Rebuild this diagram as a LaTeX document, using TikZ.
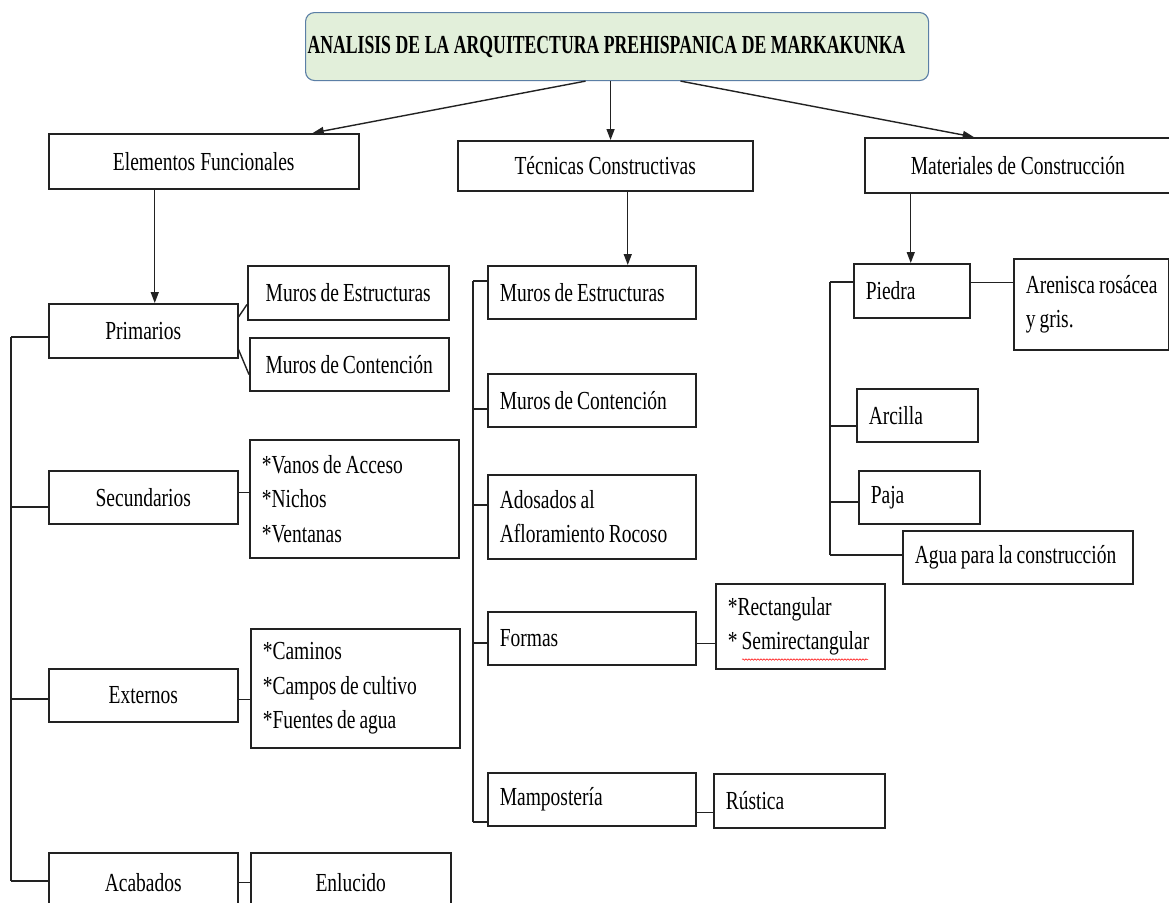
\documentclass[tikz,border=0pt]{standalone}
\usepackage{fontspec}
\setmainfont{Liberation Serif}[FakeStretch=0.75]
\newfontfamily\titlefont{Liberation Serif}[FakeStretch=0.68]
\usetikzlibrary{arrows.meta,decorations.pathmorphing,calc}
\definecolor{titlefill}{HTML}{E2EFDA}
\definecolor{titleline}{HTML}{5B7FA6}
\definecolor{ink}{HTML}{222222}
\DeclareRobustCommand\bxfont{\fontsize{26}{34.5}\selectfont}
\tikzset{
  bx/.style={draw=ink, line width=1.5pt, rectangle, inner xsep=12pt, inner ysep=0pt,
             anchor=north west, font=\bxfont, text=black,
             execute at begin node={\spaceskip=4pt plus 1pt minus 0.5pt\relax}},
  bxl/.style={bx, align=left},
  bxc/.style={bx, align=center},
  wh/.code 2 args={\pgfmathsetmacro\bxtw{#1-24}\edef\bxtmp{\noexpand\pgfkeysalso{minimum width=#1pt,minimum height=#2pt,text width=\bxtw pt}}\bxtmp},
  ln/.style={draw=ink, line width=1.4pt},
  arr/.style={ln, -{Triangle[length=11pt,width=8pt]}},
}
\begin{document}
\begin{tikzpicture}[x=1pt,y=-1pt]
\clip (0,0) rectangle (1169,902);
\fill[white] (0,0) rectangle (1169,902);

% title
\node[draw=titleline, fill=titlefill, rounded corners=9pt, line width=1.1pt,
      minimum width=623pt, minimum height=68pt, anchor=north west,
      inner xsep=2pt, inner ysep=0pt, text width=619pt, align=left] (title) at (305,12)
  {\raisebox{4pt}{\titlefont\bfseries\fontsize{26}{30}\selectfont\spaceskip=4.6pt\relax ANALISIS DE LA ARQUITECTURA PREHISPANICA DE MARKAKUNKA}};

% level 1
\node[bxc, wh={310}{55}] (ef) at (48,133) {Elementos Funcionales};
\node[bxc, wh={295}{50}] (tc) at (457,140) {Técnicas Constructivas};
\node[bxc, wh={306}{55}] (mc) at (864,137) {Materiales de Construcción};

% left column
\node[bxc, wh={189}{54}] (prim) at (48,303) {Primarios};
\node[bxc, wh={201}{54}] (lmE) at (247,265) {\mbox{Muros de Estructuras}};
\node[bxc, wh={199}{53}] (lmC) at (249,337) {\mbox{Muros de Contención}};
\node[bxc, wh={189}{53}] (sec) at (48,470) {Secundarios};
\node[bxl, wh={209}{118}] (van) at (249,439) {*Vanos de Acceso\\{}*Nichos\\{}*Ventanas};
\node[bxc, wh={189}{53}] (ext) at (48,668) {Externos};
\node[bxl, wh={209}{119}] (cam) at (250,628) {*Caminos\\{}*Campos de cultivo\\{}*Fuentes de agua};
\node[bxc, wh={189}{60}] (aca) at (48,852) {Acabados};
\node[bxc, wh={200}{60}] (enl) at (250,852) {Enlucido};

% middle column
\node[bxl, wh={208}{53}] (mE) at (487,265) {Muros de Estructuras};
\node[bxl, wh={208}{53}] (mC) at (487,373) {Muros de Contención};
\node[bxl, wh={208}{84}] (ado) at (487,474) {Adosados al\\\mbox{Afloramiento Rocoso}};
\node[bxl, wh={208}{53}] (for) at (487,611) {Formas};
\node[bxl, wh={169}{85}] (rec) at (715,583) {*Rectangular\\{}\mbox{* Semirectangular}};
\node[bxl, wh={208}{53}] (mam) at (487,772) {Mampostería};
\node[bxl, wh={171}{54}] (rus) at (713,773) {Rústica};

% right column
\node[bxl, wh={116}{54}] (pie) at (853,263) {Piedra};
\node[bxl, wh={155}{91}] (are) at (1013,258) {\mbox{Arenisca rosácea}\\y gris.};
\node[bxl, wh={121}{53}] (arc) at (856,388) {Arcilla};
\node[bxl, wh={121}{53}] (paj) at (858,470) {Paja};
\node[bxl, wh={230}{53}] (agu) at (902,530) {\mbox{Agua para la construcción}};

% spell-check squiggle
\draw[red, line width=0.5pt, decorate, decoration={snake, amplitude=0.7pt, segment length=3pt}]
  ($(rec.south west)+(27,-10)$) -- ($(rec.south west)+(153,-10)$);

% arrows from title
\draw[arr] ([xshift=-31.5pt]title.south) -- ([xshift=109pt]ef.north);
\draw[arr] ([xshift=-6.5pt]title.south) -- ([xshift=-6.5pt]title.south |- tc.north);
\draw[arr] ([xshift=63.5pt]title.south) -- ([xshift=-44pt]mc.north);
\draw[arr] ([xshift=-49pt]ef.south) -- ([xshift=-49pt]ef.south |- prim.north);
\draw[arr] ([xshift=22.5pt]tc.south) -- ([xshift=22.5pt]tc.south |- mE.north);
\draw[arr] ([xshift=-107pt]mc.south) -- ([xshift=-107pt]mc.south |- pie.north);

% left trunk
\coordinate (L1) at (11,337);
\coordinate (L2) at (11,507);
\coordinate (L3) at (11,699);
\coordinate (L4) at (11,881);
\draw[ln] (L1) -- (L4);
\draw[ln] (L1) -- (L1 -| prim.west);
\draw[ln] (L2) -- (L2 -| sec.west);
\draw[ln] (L3) -- (L3 -| ext.west);
\draw[ln] (L4) -- (L4 -| aca.west);
\draw[ln] ([yshift=-14pt]prim.north east) -- ([yshift=16pt]lmE.south west);
\draw[ln] ([yshift=9pt]prim.south east) -- ([yshift=17pt]lmC.south west);
\draw[ln] ([yshift=4.5pt]sec.east) -- ([yshift=4.5pt]sec.east -| van.west);
\draw[ln] ([yshift=-4.5pt]ext.east) -- ([yshift=-4.5pt]ext.east -| cam.west);
\draw[ln] (aca.east) -- (enl.west);

% middle trunk
\coordinate (M1) at (473,281);
\coordinate (M2) at (473,409);
\coordinate (M3) at (473,505);
\coordinate (M4) at (473,643);
\coordinate (M5) at (473,822);
\draw[ln] (M1) -- (M5);
\draw[ln] (M1) -- (M1 -| mE.west);
\draw[ln] (M2) -- (M2 -| mC.west);
\draw[ln] (M3) -- (M3 -| ado.west);
\draw[ln] (M4) -- (M4 -| for.west);
\draw[ln] (M5) -- (M5 -| mam.west);
\draw[ln] ([yshift=-5.5pt]for.east) -- ([yshift=-5.5pt]for.east -| rec.west);
\draw[ln] ([yshift=-13.5pt]mam.east) -- ([yshift=-13.5pt]mam.east -| rus.west);

% right trunk
\coordinate (R1) at (830,282);
\coordinate (R2) at (830,426);
\coordinate (R3) at (830,502);
\coordinate (R4) at (830,555);
\draw[ln] (R1) -- (R4);
\draw[ln] (R1) -- (R1 -| pie.west);
\draw[ln] (R2) -- (R2 -| arc.west);
\draw[ln] (R3) -- (R3 -| paj.west);
\draw[ln] (R4) -- (R4 -| agu.west);
\draw[ln] ([yshift=8pt]pie.east) -- ([yshift=8pt]pie.east -| are.west);
\end{tikzpicture}
\end{document}
